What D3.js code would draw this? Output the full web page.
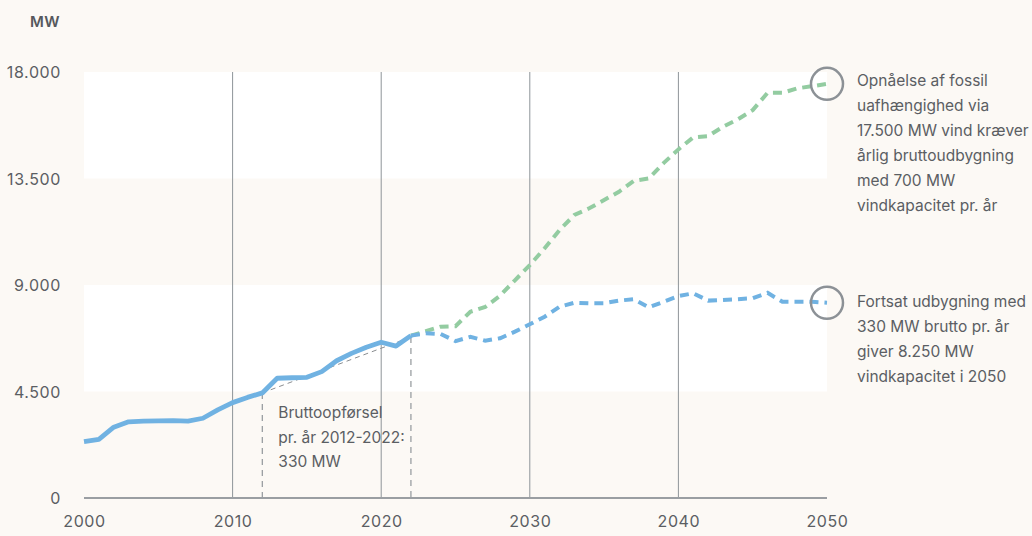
<!DOCTYPE html>
<html>
<head>
<meta charset="utf-8">
<script src="https://cdn.jsdelivr.net/npm/d3@7"></script>
<style>
  html, body { margin: 0; padding: 0; background: #fcf9f5; }
  svg { display: block; font-family: Inter, "Noto Sans", sans-serif; }
</style>
</head>
<body>
<svg id="chart" width="1032" height="536"></svg>
<script>
// Installed wind capacity (MW), historical 2000–2022
const histYears = d3.range(2000, 2023);
const histValues = [2380, 2480, 2990, 3220, 3250, 3260, 3270, 3250, 3370, 3720, 4030, 4250,
  4440, 5060, 5080, 5100, 5340, 5800, 6110, 6370, 6580, 6420, 6860];

// Projections 2022–2050
const projYears = d3.range(2022, 2051);
const continuedValues = [6860, 6960, 6930, 6630, 6810, 6650, 6750, 7030, 7340, 7660, 8080,
  8250, 8230, 8230, 8340, 8400, 8060, 8290, 8530, 8650, 8340, 8370, 8400, 8440, 8670,
  8290, 8290, 8290, 8250];
const fossilFreeValues = [6860, 7050, 7240, 7260, 7870, 8070, 8550, 9200, 9840, 10550, 11320,
  11960, 12240, 12590, 12940, 13400, 13500, 14150, 14730, 15240, 15290, 15690, 16000, 16390,
  17120, 17120, 17310, 17400, 17500];

// Gross addition trend 2012–2022
const trendYears = [2012, 2022];
const trendValues = [4440, 6800];

const yTicks = [0, 4500, 9000, 13500, 18000];
const xTicks = [2000, 2010, 2020, 2030, 2040, 2050];
const gridYears = [2010, 2020, 2030, 2040];

const trendNote = ["Bruttoopførsel", "pr. år 2012-2022:", "330 MW"];
const fossilNote = ["Opnåelse af fossil", "uafhængighed via", "17.500 MW vind kræver",
  "årlig bruttoudbygning", "med 700 MW", "vindkapacitet pr. år"];
const continuedNote = ["Fortsat udbygning med", "330 MW brutto pr. år",
  "giver 8.250 MW", "vindkapacitet i 2050"];

const svg = d3.select("#chart");
const plotL = 84, plotR = 827, plotT = 72, plotB = 498;

const x = d3.scaleLinear().domain([2000, 2050]).range([plotL, plotR]);
const y = d3.scaleLinear().domain([0, 18000]).range([plotB, plotT]);
const fmt = v => d3.format(",")(v).replace(/,/g, ".");

const blue = "#70b2e2", green = "#93cca1", grid = "#8e9499", textCol = "#5b5e63";

// alternating white bands
[[4500, 9000], [13500, 18000]].forEach(([a, b]) => {
  svg.append("rect")
    .attr("x", plotL).attr("width", plotR - plotL)
    .attr("y", y(b)).attr("height", y(a) - y(b))
    .attr("fill", "#ffffff");
});

// vertical grid lines
svg.append("g").selectAll("line").data(gridYears).join("line")
  .attr("x1", d => x(d)).attr("x2", d => x(d))
  .attr("y1", plotT).attr("y2", plotB)
  .attr("stroke", grid).attr("stroke-width", 1);

// y axis labels
svg.append("text").attr("x", 60).attr("y", 27)
  .attr("text-anchor", "end").attr("font-size", 15).attr("font-weight", 600)
  .attr("letter-spacing", 0.4)
  .attr("fill", "#55585c").text("MW");
const yAxis = d3.axisLeft(y).tickValues(yTicks).tickFormat(fmt).tickSize(0).tickPadding(0);
const gy = svg.append("g").attr("transform", "translate(61,0)").call(yAxis);
gy.select(".domain").remove();
gy.selectAll("text").attr("font-size", 16).attr("fill", textCol)
  .attr("letter-spacing", 0.6)
  .attr("font-family", "Inter, sans-serif").attr("dy", "0.35em");

// x axis
const xAxis = d3.axisBottom(x).tickValues(xTicks).tickFormat(d3.format("d")).tickSize(0).tickPadding(0);
const gx = svg.append("g").attr("transform", `translate(0,${plotB})`).call(xAxis);
gx.select(".domain").remove();
gx.selectAll("text").attr("font-size", 16).attr("fill", textCol)
  .attr("letter-spacing", 0.6)
  .attr("font-family", "Inter, sans-serif").attr("y", 23).attr("dy", "0.35em");
svg.append("line").attr("x1", plotL).attr("x2", plotR)
  .attr("y1", plotB).attr("y2", plotB)
  .attr("stroke", "#9a9ea2").attr("stroke-width", 2);

// gross-addition trend and its period markers
const trendPts = trendYears.map((yr, i) => [yr, trendValues[i]]);
svg.append("line")
  .attr("x1", x(trendPts[0][0])).attr("y1", y(trendPts[0][1]))
  .attr("x2", x(trendPts[1][0])).attr("y2", y(trendPts[1][1]))
  .attr("stroke", "#8a8d90").attr("stroke-width", 1).attr("stroke-dasharray", "5,4");
svg.append("g").selectAll("line").data(trendPts).join("line")
  .attr("x1", d => x(d[0])).attr("x2", d => x(d[0]))
  .attr("y1", d => y(d[1])).attr("y2", plotB)
  .attr("stroke", "#9a9ea2").attr("stroke-width", 1.3).attr("stroke-dasharray", "6,5");

const line = d3.line().x(d => x(d[0])).y(d => y(d[1]));

// projections
svg.append("path")
  .datum(projYears.map((yr, i) => [yr, fossilFreeValues[i]]))
  .attr("d", line).attr("fill", "none")
  .attr("stroke", green).attr("stroke-width", 4).attr("stroke-dasharray", "9,6");
svg.append("path")
  .datum(projYears.map((yr, i) => [yr, continuedValues[i]]))
  .attr("d", line).attr("fill", "none")
  .attr("stroke", blue).attr("stroke-width", 4).attr("stroke-dasharray", "9,6");

// historical capacity
svg.append("path")
  .datum(histYears.map((yr, i) => [yr, histValues[i]]))
  .attr("d", line).attr("fill", "none")
  .attr("stroke", blue).attr("stroke-width", 4.8)
  .attr("stroke-linejoin", "round");

// end markers
const endPts = [
  [2050, fossilFreeValues[fossilFreeValues.length - 1]],
  [2050, continuedValues[continuedValues.length - 1]]
];
svg.append("g").selectAll("circle").data(endPts).join("circle")
  .attr("cx", d => x(d[0])).attr("cy", d => y(d[1])).attr("r", 16)
  .attr("fill", "none").attr("stroke", "#8c9196").attr("stroke-width", 2.5);

// notes
function note(lines, tx, ty, gap) {
  svg.append("text").attr("x", tx).attr("y", ty)
    .attr("font-size", 15.5).attr("fill", textCol)
    .selectAll("tspan").data(lines).join("tspan")
    .attr("x", tx).attr("dy", (d, i) => i ? gap : 0).text(d => d);
}
note(trendNote, x(2012) + 16, 418, 24.5);
note(fossilNote, 857, 86, 25);
note(continuedNote, 857, 307, 25);
</script>
</body>
</html>
